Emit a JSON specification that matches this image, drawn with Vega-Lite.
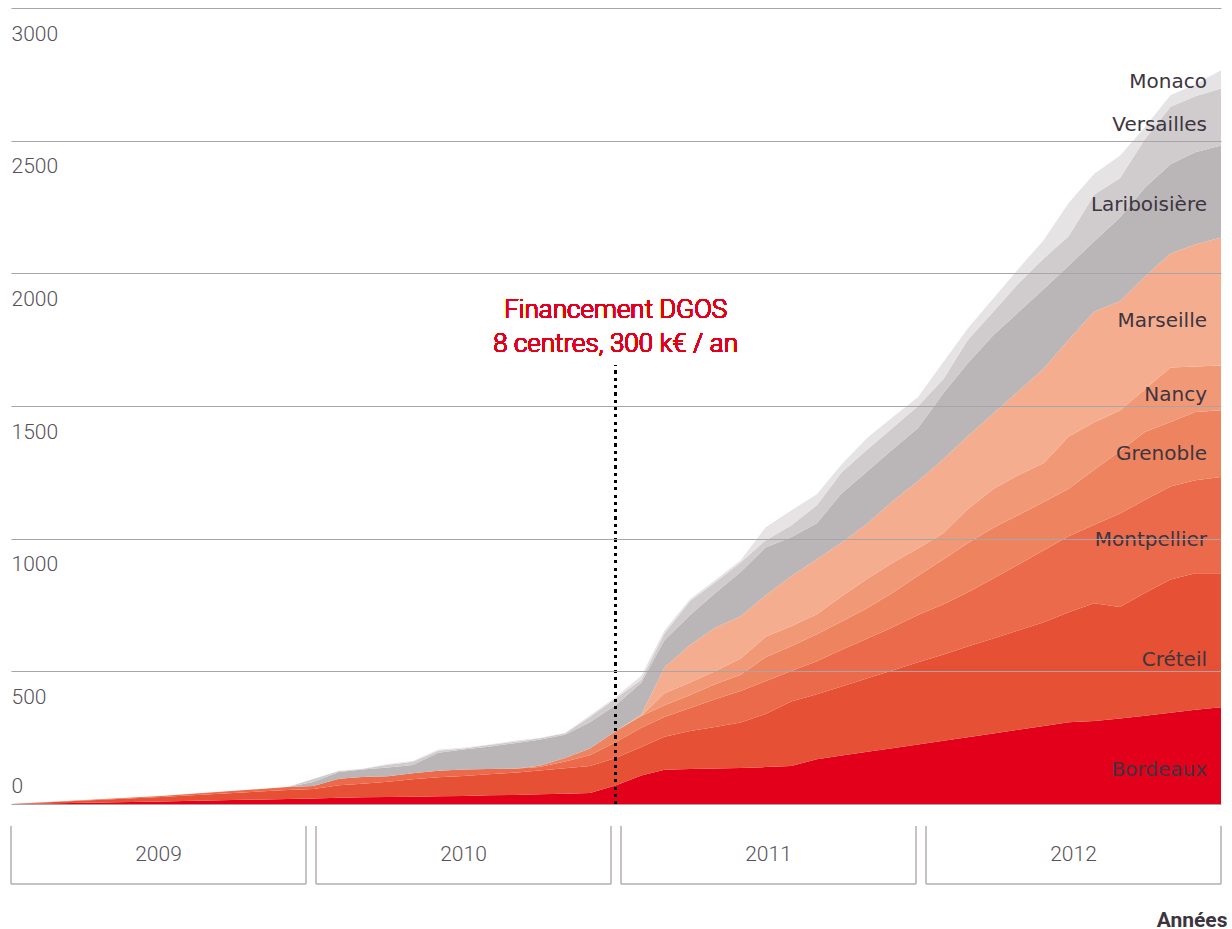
{
  "$schema": "https://vega.github.io/schema/vega-lite/v6.json",
  "padding": {"left": 10, "top": 8, "right": 0, "bottom": 0},
  "background": "white",
  "spacing": 19,
  "config": {"view": {"stroke": null}, "font": "Roboto"},
  "datasets": {
    "inclusions": [
      {"d":"2009-01-01","c":"Bordeaux","v":0},{"d":"2009-01-01","c":"Créteil","v":0},{"d":"2009-01-01","c":"Montpellier","v":0},{"d":"2009-01-01","c":"Grenoble","v":0},{"d":"2009-01-01","c":"Nancy","v":0},{"d":"2009-01-01","c":"Marseille","v":0},{"d":"2009-01-01","c":"Lariboisière","v":0},{"d":"2009-01-01","c":"Versailles","v":0},{"d":"2009-01-01","c":"Monaco","v":0},
      {"d":"2009-07-01","c":"Bordeaux","v":9},{"d":"2009-07-01","c":"Créteil","v":17},{"d":"2009-07-01","c":"Montpellier","v":4},{"d":"2009-07-01","c":"Grenoble","v":0},{"d":"2009-07-01","c":"Nancy","v":0},{"d":"2009-07-01","c":"Marseille","v":0},{"d":"2009-07-01","c":"Lariboisière","v":0},{"d":"2009-07-01","c":"Versailles","v":0},{"d":"2009-07-01","c":"Monaco","v":0},
      {"d":"2009-12-01","c":"Bordeaux","v":19},{"d":"2009-12-01","c":"Créteil","v":34},{"d":"2009-12-01","c":"Montpellier","v":11},{"d":"2009-12-01","c":"Grenoble","v":0},{"d":"2009-12-01","c":"Nancy","v":0},{"d":"2009-12-01","c":"Marseille","v":0},{"d":"2009-12-01","c":"Lariboisière","v":0},{"d":"2009-12-01","c":"Versailles","v":0},{"d":"2009-12-01","c":"Monaco","v":0},
      {"d":"2010-01-01","c":"Bordeaux","v":21},{"d":"2010-01-01","c":"Créteil","v":36},{"d":"2010-01-01","c":"Montpellier","v":11},{"d":"2010-01-01","c":"Grenoble","v":0},{"d":"2010-01-01","c":"Nancy","v":0},{"d":"2010-01-01","c":"Marseille","v":0},{"d":"2010-01-01","c":"Lariboisière","v":15},{"d":"2010-01-01","c":"Versailles","v":11},{"d":"2010-01-01","c":"Monaco","v":0},
      {"d":"2010-02-01","c":"Bordeaux","v":24},{"d":"2010-02-01","c":"Créteil","v":47},{"d":"2010-02-01","c":"Montpellier","v":24},{"d":"2010-02-01","c":"Grenoble","v":0},{"d":"2010-02-01","c":"Nancy","v":0},{"d":"2010-02-01","c":"Marseille","v":0},{"d":"2010-02-01","c":"Lariboisière","v":26},{"d":"2010-02-01","c":"Versailles","v":3},{"d":"2010-02-01","c":"Monaco","v":1},
      {"d":"2010-03-01","c":"Bordeaux","v":25},{"d":"2010-03-01","c":"Créteil","v":51},{"d":"2010-03-01","c":"Montpellier","v":26},{"d":"2010-03-01","c":"Grenoble","v":0},{"d":"2010-03-01","c":"Nancy","v":0},{"d":"2010-03-01","c":"Marseille","v":0},{"d":"2010-03-01","c":"Lariboisière","v":28},{"d":"2010-03-01","c":"Versailles","v":2},{"d":"2010-03-01","c":"Monaco","v":1},
      {"d":"2010-04-01","c":"Bordeaux","v":26},{"d":"2010-04-01","c":"Créteil","v":58},{"d":"2010-04-01","c":"Montpellier","v":21},{"d":"2010-04-01","c":"Grenoble","v":0},{"d":"2010-04-01","c":"Nancy","v":0},{"d":"2010-04-01","c":"Marseille","v":0},{"d":"2010-04-01","c":"Lariboisière","v":33},{"d":"2010-04-01","c":"Versailles","v":10},{"d":"2010-04-01","c":"Monaco","v":3},
      {"d":"2010-05-01","c":"Bordeaux","v":27},{"d":"2010-05-01","c":"Créteil","v":66},{"d":"2010-05-01","c":"Montpellier","v":23},{"d":"2010-05-01","c":"Grenoble","v":0},{"d":"2010-05-01","c":"Nancy","v":0},{"d":"2010-05-01","c":"Marseille","v":0},{"d":"2010-05-01","c":"Lariboisière","v":31},{"d":"2010-05-01","c":"Versailles","v":12},{"d":"2010-05-01","c":"Monaco","v":3},
      {"d":"2010-06-01","c":"Bordeaux","v":29},{"d":"2010-06-01","c":"Créteil","v":72},{"d":"2010-06-01","c":"Montpellier","v":24},{"d":"2010-06-01","c":"Grenoble","v":0},{"d":"2010-06-01","c":"Nancy","v":0},{"d":"2010-06-01","c":"Marseille","v":0},{"d":"2010-06-01","c":"Lariboisière","v":68},{"d":"2010-06-01","c":"Versailles","v":8},{"d":"2010-06-01","c":"Monaco","v":4},
      {"d":"2010-07-01","c":"Bordeaux","v":30},{"d":"2010-07-01","c":"Créteil","v":76},{"d":"2010-07-01","c":"Montpellier","v":24},{"d":"2010-07-01","c":"Grenoble","v":0},{"d":"2010-07-01","c":"Nancy","v":0},{"d":"2010-07-01","c":"Marseille","v":0},{"d":"2010-07-01","c":"Lariboisière","v":75},{"d":"2010-07-01","c":"Versailles","v":4},{"d":"2010-07-01","c":"Monaco","v":3},
      {"d":"2010-08-01","c":"Bordeaux","v":33},{"d":"2010-08-01","c":"Créteil","v":79},{"d":"2010-08-01","c":"Montpellier","v":20},{"d":"2010-08-01","c":"Grenoble","v":0},{"d":"2010-08-01","c":"Nancy","v":0},{"d":"2010-08-01","c":"Marseille","v":0},{"d":"2010-08-01","c":"Lariboisière","v":84},{"d":"2010-08-01","c":"Versailles","v":6},{"d":"2010-08-01","c":"Monaco","v":2},
      {"d":"2010-09-01","c":"Bordeaux","v":34},{"d":"2010-09-01","c":"Créteil","v":84},{"d":"2010-09-01","c":"Montpellier","v":15},{"d":"2010-09-01","c":"Grenoble","v":0},{"d":"2010-09-01","c":"Nancy","v":0},{"d":"2010-09-01","c":"Marseille","v":0},{"d":"2010-09-01","c":"Lariboisière","v":96},{"d":"2010-09-01","c":"Versailles","v":6},{"d":"2010-09-01","c":"Monaco","v":3},
      {"d":"2010-10-01","c":"Bordeaux","v":37},{"d":"2010-10-01","c":"Créteil","v":89},{"d":"2010-10-01","c":"Montpellier","v":13},{"d":"2010-10-01","c":"Grenoble","v":5},{"d":"2010-10-01","c":"Nancy","v":0},{"d":"2010-10-01","c":"Marseille","v":0},{"d":"2010-10-01","c":"Lariboisière","v":98},{"d":"2010-10-01","c":"Versailles","v":6},{"d":"2010-10-01","c":"Monaco","v":1},
      {"d":"2010-11-01","c":"Bordeaux","v":39},{"d":"2010-11-01","c":"Créteil","v":96},{"d":"2010-11-01","c":"Montpellier","v":25},{"d":"2010-11-01","c":"Grenoble","v":13},{"d":"2010-11-01","c":"Nancy","v":0},{"d":"2010-11-01","c":"Marseille","v":0},{"d":"2010-11-01","c":"Lariboisière","v":88},{"d":"2010-11-01","c":"Versailles","v":6},{"d":"2010-11-01","c":"Monaco","v":1},
      {"d":"2010-12-01","c":"Bordeaux","v":41},{"d":"2010-12-01","c":"Créteil","v":102},{"d":"2010-12-01","c":"Montpellier","v":41},{"d":"2010-12-01","c":"Grenoble","v":25},{"d":"2010-12-01","c":"Nancy","v":0},{"d":"2010-12-01","c":"Marseille","v":0},{"d":"2010-12-01","c":"Lariboisière","v":99},{"d":"2010-12-01","c":"Versailles","v":20},{"d":"2010-12-01","c":"Monaco","v":6},
      {"d":"2011-01-01","c":"Bordeaux","v":70},{"d":"2011-01-01","c":"Créteil","v":103},{"d":"2011-01-01","c":"Montpellier","v":60},{"d":"2011-01-01","c":"Grenoble","v":41},{"d":"2011-01-01","c":"Nancy","v":0},{"d":"2011-01-01","c":"Marseille","v":0},{"d":"2011-01-01","c":"Lariboisière","v":98},{"d":"2011-01-01","c":"Versailles","v":26},{"d":"2011-01-01","c":"Monaco","v":4},
      {"d":"2011-02-01","c":"Bordeaux","v":107},{"d":"2011-02-01","c":"Créteil","v":108},{"d":"2011-02-01","c":"Montpellier","v":72},{"d":"2011-02-01","c":"Grenoble","v":45},{"d":"2011-02-01","c":"Nancy","v":0},{"d":"2011-02-01","c":"Marseille","v":4},{"d":"2011-02-01","c":"Lariboisière","v":121},{"d":"2011-02-01","c":"Versailles","v":11},{"d":"2011-02-01","c":"Monaco","v":15},
      {"d":"2011-03-01","c":"Bordeaux","v":129},{"d":"2011-03-01","c":"Créteil","v":124},{"d":"2011-03-01","c":"Montpellier","v":75},{"d":"2011-03-01","c":"Grenoble","v":44},{"d":"2011-03-01","c":"Nancy","v":45},{"d":"2011-03-01","c":"Marseille","v":98},{"d":"2011-03-01","c":"Lariboisière","v":102},{"d":"2011-03-01","c":"Versailles","v":26},{"d":"2011-03-01","c":"Monaco","v":11},
      {"d":"2011-04-01","c":"Bordeaux","v":132},{"d":"2011-04-01","c":"Créteil","v":143},{"d":"2011-04-01","c":"Montpellier","v":87},{"d":"2011-04-01","c":"Grenoble","v":49},{"d":"2011-04-01","c":"Nancy","v":47},{"d":"2011-04-01","c":"Marseille","v":141},{"d":"2011-04-01","c":"Lariboisière","v":113},{"d":"2011-04-01","c":"Versailles","v":53},{"d":"2011-04-01","c":"Monaco","v":8},
      {"d":"2011-05-01","c":"Bordeaux","v":134},{"d":"2011-05-01","c":"Créteil","v":156},{"d":"2011-05-01","c":"Montpellier","v":105},{"d":"2011-05-01","c":"Grenoble","v":56},{"d":"2011-05-01","c":"Nancy","v":49},{"d":"2011-05-01","c":"Marseille","v":164},{"d":"2011-05-01","c":"Lariboisière","v":130},{"d":"2011-05-01","c":"Versailles","v":41},{"d":"2011-05-01","c":"Monaco","v":8},
      {"d":"2011-06-01","c":"Bordeaux","v":136},{"d":"2011-06-01","c":"Créteil","v":171},{"d":"2011-06-01","c":"Montpellier","v":119},{"d":"2011-06-01","c":"Grenoble","v":61},{"d":"2011-06-01","c":"Nancy","v":61},{"d":"2011-06-01","c":"Marseille","v":160},{"d":"2011-06-01","c":"Lariboisière","v":166},{"d":"2011-06-01","c":"Versailles","v":36},{"d":"2011-06-01","c":"Monaco","v":9},
      {"d":"2011-07-01","c":"Bordeaux","v":139},{"d":"2011-07-01","c":"Créteil","v":200},{"d":"2011-07-01","c":"Montpellier","v":124},{"d":"2011-07-01","c":"Grenoble","v":90},{"d":"2011-07-01","c":"Nancy","v":77},{"d":"2011-07-01","c":"Marseille","v":156},{"d":"2011-07-01","c":"Lariboisière","v":181},{"d":"2011-07-01","c":"Versailles","v":26},{"d":"2011-07-01","c":"Monaco","v":49},
      {"d":"2011-08-01","c":"Bordeaux","v":143},{"d":"2011-08-01","c":"Créteil","v":243},{"d":"2011-08-01","c":"Montpellier","v":115},{"d":"2011-08-01","c":"Grenoble","v":94},{"d":"2011-08-01","c":"Nancy","v":75},{"d":"2011-08-01","c":"Marseille","v":188},{"d":"2011-08-01","c":"Lariboisière","v":147},{"d":"2011-08-01","c":"Versailles","v":45},{"d":"2011-08-01","c":"Monaco","v":56},
      {"d":"2011-09-01","c":"Bordeaux","v":169},{"d":"2011-09-01","c":"Créteil","v":245},{"d":"2011-09-01","c":"Montpellier","v":124},{"d":"2011-09-01","c":"Grenoble","v":102},{"d":"2011-09-01","c":"Nancy","v":75},{"d":"2011-09-01","c":"Marseille","v":207},{"d":"2011-09-01","c":"Lariboisière","v":136},{"d":"2011-09-01","c":"Versailles","v":68},{"d":"2011-09-01","c":"Monaco","v":41},
      {"d":"2011-10-01","c":"Bordeaux","v":183},{"d":"2011-10-01","c":"Créteil","v":260},{"d":"2011-10-01","c":"Montpellier","v":138},{"d":"2011-10-01","c":"Grenoble","v":107},{"d":"2011-10-01","c":"Nancy","v":95},{"d":"2011-10-01","c":"Marseille","v":203},{"d":"2011-10-01","c":"Lariboisière","v":185},{"d":"2011-10-01","c":"Versailles","v":79},{"d":"2011-10-01","c":"Monaco","v":30},
      {"d":"2011-11-01","c":"Bordeaux","v":197},{"d":"2011-11-01","c":"Créteil","v":277},{"d":"2011-11-01","c":"Montpellier","v":150},{"d":"2011-11-01","c":"Grenoble","v":115},{"d":"2011-11-01","c":"Nancy","v":110},{"d":"2011-11-01","c":"Marseille","v":208},{"d":"2011-11-01","c":"Lariboisière","v":197},{"d":"2011-11-01","c":"Versailles","v":82},{"d":"2011-11-01","c":"Monaco","v":44},
      {"d":"2011-12-01","c":"Bordeaux","v":210},{"d":"2011-12-01","c":"Créteil","v":293},{"d":"2011-12-01","c":"Montpellier","v":162},{"d":"2011-12-01","c":"Grenoble","v":130},{"d":"2011-12-01","c":"Nancy","v":113},{"d":"2011-12-01","c":"Marseille","v":232},{"d":"2011-12-01","c":"Lariboisière","v":195},{"d":"2011-12-01","c":"Versailles","v":81},{"d":"2011-12-01","c":"Monaco","v":41},
      {"d":"2012-01-01","c":"Bordeaux","v":224},{"d":"2012-01-01","c":"Créteil","v":310},{"d":"2012-01-01","c":"Montpellier","v":178},{"d":"2012-01-01","c":"Grenoble","v":148},{"d":"2012-01-01","c":"Nancy","v":103},{"d":"2012-01-01","c":"Marseille","v":253},{"d":"2012-01-01","c":"Lariboisière","v":200},{"d":"2012-01-01","c":"Versailles","v":83},{"d":"2012-01-01","c":"Monaco","v":34},
      {"d":"2012-02-01","c":"Bordeaux","v":238},{"d":"2012-02-01","c":"Créteil","v":325},{"d":"2012-02-01","c":"Montpellier","v":190},{"d":"2012-02-01","c":"Grenoble","v":169},{"d":"2012-02-01","c":"Nancy","v":99},{"d":"2012-02-01","c":"Marseille","v":279},{"d":"2012-02-01","c":"Lariboisière","v":249},{"d":"2012-02-01","c":"Versailles","v":53},{"d":"2012-02-01","c":"Monaco","v":65},
      {"d":"2012-03-01","c":"Bordeaux","v":252},{"d":"2012-03-01","c":"Créteil","v":342},{"d":"2012-03-01","c":"Montpellier","v":203},{"d":"2012-03-01","c":"Grenoble","v":186},{"d":"2012-03-01","c":"Nancy","v":128},{"d":"2012-03-01","c":"Marseille","v":275},{"d":"2012-03-01","c":"Lariboisière","v":274},{"d":"2012-03-01","c":"Versailles","v":88},{"d":"2012-03-01","c":"Monaco","v":43},
      {"d":"2012-04-01","c":"Bordeaux","v":266},{"d":"2012-04-01","c":"Créteil","v":358},{"d":"2012-04-01","c":"Montpellier","v":226},{"d":"2012-04-01","c":"Grenoble","v":191},{"d":"2012-04-01","c":"Nancy","v":146},{"d":"2012-04-01","c":"Marseille","v":285},{"d":"2012-04-01","c":"Lariboisière","v":295},{"d":"2012-04-01","c":"Versailles","v":88},{"d":"2012-04-01","c":"Monaco","v":50},
      {"d":"2012-05-01","c":"Bordeaux","v":280},{"d":"2012-05-01","c":"Créteil","v":374},{"d":"2012-05-01","c":"Montpellier","v":248},{"d":"2012-05-01","c":"Grenoble","v":186},{"d":"2012-05-01","c":"Nancy","v":151},{"d":"2012-05-01","c":"Marseille","v":316},{"d":"2012-05-01","c":"Lariboisière","v":297},{"d":"2012-05-01","c":"Versailles","v":108},{"d":"2012-05-01","c":"Monaco","v":55},
      {"d":"2012-06-01","c":"Bordeaux","v":294},{"d":"2012-06-01","c":"Créteil","v":391},{"d":"2012-06-01","c":"Montpellier","v":271},{"d":"2012-06-01","c":"Grenoble","v":182},{"d":"2012-06-01","c":"Nancy","v":147},{"d":"2012-06-01","c":"Marseille","v":356},{"d":"2012-06-01","c":"Lariboisière","v":300},{"d":"2012-06-01","c":"Versailles","v":115},{"d":"2012-06-01","c":"Monaco","v":70},
      {"d":"2012-07-01","c":"Bordeaux","v":308},{"d":"2012-07-01","c":"Créteil","v":415},{"d":"2012-07-01","c":"Montpellier","v":286},{"d":"2012-07-01","c":"Grenoble","v":179},{"d":"2012-07-01","c":"Nancy","v":197},{"d":"2012-07-01","c":"Marseille","v":365},{"d":"2012-07-01","c":"Lariboisière","v":279},{"d":"2012-07-01","c":"Versailles","v":111},{"d":"2012-07-01","c":"Monaco","v":125},
      {"d":"2012-08-01","c":"Bordeaux","v":313},{"d":"2012-08-01","c":"Créteil","v":444},{"d":"2012-08-01","c":"Montpellier","v":295},{"d":"2012-08-01","c":"Grenoble","v":208},{"d":"2012-08-01","c":"Nancy","v":179},{"d":"2012-08-01","c":"Marseille","v":417},{"d":"2012-08-01","c":"Lariboisière","v":265},{"d":"2012-08-01","c":"Versailles","v":176},{"d":"2012-08-01","c":"Monaco","v":78},
      {"d":"2012-09-01","c":"Bordeaux","v":322},{"d":"2012-09-01","c":"Créteil","v":420},{"d":"2012-09-01","c":"Montpellier","v":353},{"d":"2012-09-01","c":"Grenoble","v":235},{"d":"2012-09-01","c":"Nancy","v":153},{"d":"2012-09-01","c":"Marseille","v":412},{"d":"2012-09-01","c":"Lariboisière","v":315},{"d":"2012-09-01","c":"Versailles","v":148},{"d":"2012-09-01","c":"Monaco","v":85},
      {"d":"2012-10-01","c":"Bordeaux","v":333},{"d":"2012-10-01","c":"Créteil","v":462},{"d":"2012-10-01","c":"Montpellier","v":351},{"d":"2012-10-01","c":"Grenoble","v":256},{"d":"2012-10-01","c":"Nancy","v":161},{"d":"2012-10-01","c":"Marseille","v":424},{"d":"2012-10-01","c":"Lariboisière","v":336},{"d":"2012-10-01","c":"Versailles","v":182},{"d":"2012-10-01","c":"Monaco","v":46},
      {"d":"2012-11-01","c":"Bordeaux","v":344},{"d":"2012-11-01","c":"Créteil","v":502},{"d":"2012-11-01","c":"Montpellier","v":351},{"d":"2012-11-01","c":"Grenoble","v":243},{"d":"2012-11-01","c":"Nancy","v":205},{"d":"2012-11-01","c":"Marseille","v":430},{"d":"2012-11-01","c":"Lariboisière","v":336},{"d":"2012-11-01","c":"Versailles","v":217},{"d":"2012-11-01","c":"Monaco","v":43},
      {"d":"2012-12-01","c":"Bordeaux","v":355},{"d":"2012-12-01","c":"Créteil","v":515},{"d":"2012-12-01","c":"Montpellier","v":350},{"d":"2012-12-01","c":"Grenoble","v":257},{"d":"2012-12-01","c":"Nancy","v":172},{"d":"2012-12-01","c":"Marseille","v":460},{"d":"2012-12-01","c":"Lariboisière","v":347},{"d":"2012-12-01","c":"Versailles","v":211},{"d":"2012-12-01","c":"Monaco","v":46},
      {"d":"2013-01-01","c":"Bordeaux","v":365},{"d":"2013-01-01","c":"Créteil","v":505},{"d":"2013-01-01","c":"Montpellier","v":362},{"d":"2013-01-01","c":"Grenoble","v":252},{"d":"2013-01-01","c":"Nancy","v":169},{"d":"2013-01-01","c":"Marseille","v":482},{"d":"2013-01-01","c":"Lariboisière","v":347},{"d":"2013-01-01","c":"Versailles","v":215},{"d":"2013-01-01","c":"Monaco","v":68}
    ],
    "annees": [{"annee":"2009"},{"annee":"2010"},{"annee":"2011"},{"annee":"2012"}]
  },
  "vconcat": [
    {
      "width": 1210,
      "height": 796,
      "data": {"name": "inclusions"},
      "transform": [
        {"calculate": "indexof(['Bordeaux','Créteil','Montpellier','Grenoble','Nancy','Marseille','Lariboisière','Versailles','Monaco'], datum.c)", "as": "rang"}
      ],
      "layer": [
        {
          "mark": {"type": "area", "interpolate": "linear"},
          "encoding": {
            "x": {"field": "d", "type": "temporal", "axis": null,
                  "scale": {"type": "utc", "domain": [{"year": 2009, "month": 1, "date": 1, "utc": true}, {"year": 2013, "month": 1, "date": 1, "utc": true}]}},
            "y": {"field": "v", "type": "quantitative", "stack": "zero",
                  "scale": {"domain": [0, 3000], "nice": false},
                  "axis": {"title": null, "format": "d", "values": [0, 500, 1000, 1500, 2000, 2500, 3000], "grid": true, "gridColor": "#a9a4a7", "gridWidth": 1.2, "domain": false, "ticks": false, "labelAlign": "left", "labelPadding": 0, "labelBaseline": "alphabetic", "labelOffset": {"condition": {"test": "datum.value === 0", "value": -12}, "value": 32}, "labelFont": "Roboto", "labelFontSize": 21, "labelFontWeight": 300, "labelColor": "#57525a", "zindex": 1}},
            "color": {"field": "c", "type": "nominal", "legend": null,
                      "scale": {"domain": ["Bordeaux", "Créteil", "Montpellier", "Grenoble", "Nancy", "Marseille", "Lariboisière", "Versailles", "Monaco"],
                                "range": ["#e2001a", "#e65035", "#eb6a4b", "#ee845f", "#f19977", "#f4ae8f", "#bab5b7", "#d0ccce", "#e5e3e4"]}},
            "order": {"field": "rang", "type": "quantitative", "sort": "ascending"}
          }
        },
        {
          "transform": [
            {"filter": "utcyear(toDate(datum.d)) === 2013"},
            {"stack": "v", "groupby": ["d"], "sort": [{"field": "rang", "order": "ascending"}], "as": ["y0", "y1"]},
            {"calculate": "datum.y0 + 0.35 * (datum.y1 - datum.y0)", "as": "ly"}
          ],
          "mark": {"type": "text", "align": "right", "baseline": "middle", "dx": -14, "font": "DejaVu Sans", "fontSize": 20, "fontWeight": "normal", "color": "#3d3540"},
          "encoding": {
            "x": {"field": "d", "type": "temporal"},
            "y": {"field": "ly", "type": "quantitative", "title": null},
            "text": {"field": "c"}
          }
        },
        {
          "mark": {"type": "rule", "color": "#000000", "strokeWidth": 2.5, "strokeDash": [2.5, 4.8]},
          "encoding": {
            "x": {"datum": {"year": 2011, "month": 1, "date": 1, "utc": true}, "type": "temporal"},
            "y": {"datum": 0, "type": "quantitative"},
            "y2": {"datum": 1653}
          }
        },
        {
          "mark": {"type": "text", "text": ["Financement DGOS", "8 centres, 300 k€ / an"], "align": "center", "baseline": "alphabetic", "font": "Roboto", "fontSize": 26, "fontWeight": 300, "color": "#e2001a", "lineHeight": 34},
          "encoding": {
            "x": {"datum": {"year": 2011, "month": 1, "date": 1, "utc": true}, "type": "temporal"},
            "y": {"datum": 1830, "type": "quantitative"}
          }
        }
      ]
    },
    {
      "width": 1210,
      "height": 58,
      "data": {"name": "annees"},
      "encoding": {
        "x": {"field": "annee", "type": "ordinal",
              "scale": {"paddingInner": 0.0328, "paddingOuter": 0},
              "axis": {"title": "Années", "labels": false, "ticks": false, "domain": false, "titleFont": "Roboto", "titleFontWeight": "bold", "titleFontSize": 21, "titleColor": "#3c3540", "titleAlign": "right", "titleAnchor": "end", "titleX": 1216, "titleY": 42, "titleBaseline": "alphabetic"}}
      },
      "layer": [
        {
          "mark": {"type": "rule", "color": "#b3aeb1", "strokeWidth": 1.5},
          "encoding": {
            "x": {"field": "annee", "type": "ordinal", "bandPosition": 0},
            "y": {"datum": 0, "type": "quantitative", "scale": {"domain": [0, 1]}, "axis": null},
            "y2": {"datum": 1}
          }
        },
        {
          "mark": {"type": "rule", "color": "#b3aeb1", "strokeWidth": 1.5},
          "encoding": {
            "x": {"field": "annee", "type": "ordinal", "bandPosition": 1},
            "y": {"datum": 0, "type": "quantitative", "scale": {"domain": [0, 1]}, "axis": null},
            "y2": {"datum": 1}
          }
        },
        {
          "mark": {"type": "tick", "orient": "horizontal", "size": 295, "thickness": 1.5, "color": "#b3aeb1", "opacity": 1},
          "encoding": {
            "y": {"datum": 0, "type": "quantitative", "scale": {"domain": [0, 1]}, "axis": null}
          }
        },
        {
          "mark": {"type": "text", "font": "Roboto", "fontSize": 21, "fontWeight": 300, "color": "#57525a", "baseline": "middle"},
          "encoding": {
            "y": {"datum": 0.5, "type": "quantitative", "scale": {"domain": [0, 1]}, "axis": null},
            "text": {"field": "annee"}
          }
        }
      ]
    }
  ]
}
